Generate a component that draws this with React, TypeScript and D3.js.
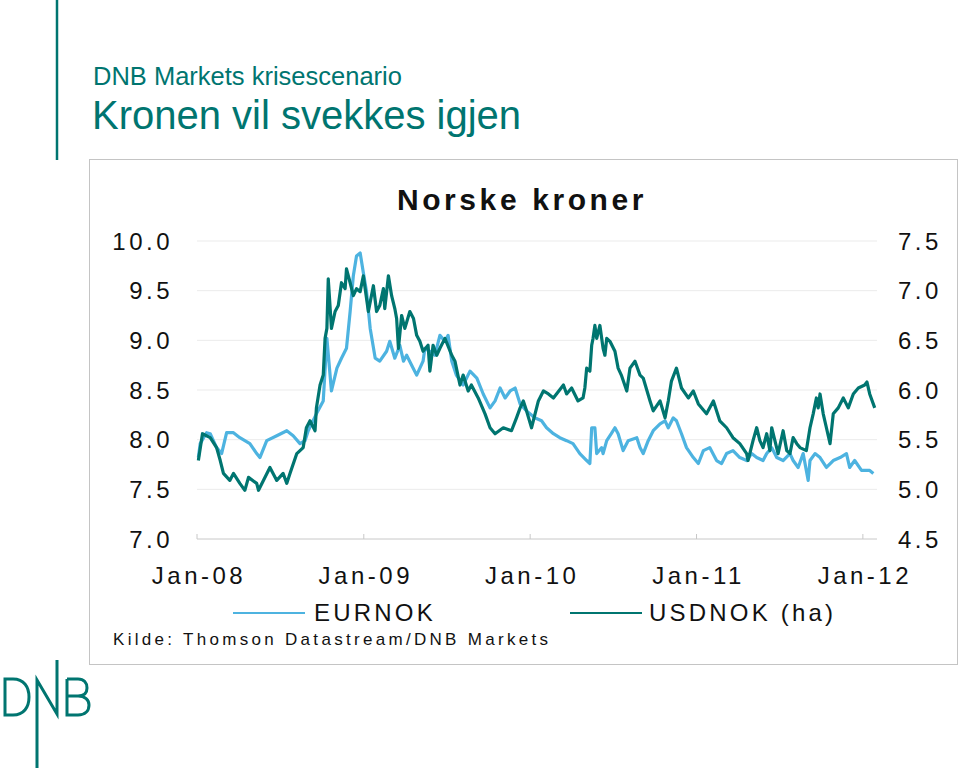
import React from "react";
import * as d3 from "d3";

// Months since Jan 2008 and values
const eurMonths = [0.1,0.22,0.7,0.94,1.42,1.78,2.14,2.62,3.1,3.46,3.82,4.3,4.54,5.02,5.74,6.46,6.94,7.42,7.78,8.02,8.62,9.1,9.35,9.7,10.07,10.43,10.79,11.03,11.27,11.5,11.75,12.0,12.23,12.47,12.83,13.19,13.67,13.91,14.27,14.63,14.87,15.11,15.47,15.83,16.07,16.31,16.43,16.79,17.15,17.51,17.87,18.11,18.36,18.71,19.19,19.67,20.16,20.64,21.12,21.48,21.84,22.2,22.56,22.92,23.28,23.76,24.36,24.84,25.2,25.68,26.16,26.64,27.12,27.6,28.08,28.32,28.44,28.68,28.8,29.16,29.28,29.52,29.88,30.12,30.36,30.73,31.09,31.69,31.93,32.17,32.53,32.89,33.37,33.73,33.97,34.33,34.57,34.93,35.29,35.77,36.13,36.49,36.97,37.45,37.81,38.17,38.65,39.13,39.61,39.97,40.33,40.81,41.06,41.42,41.78,42.26,42.74,42.98,43.34,43.7,44.06,44.18,44.54,44.9,45.38,45.87,46.35,46.83,47.06,47.42,47.9,48.5,48.75];
const eurValues = [7.82,7.96,8.07,8.06,7.92,7.86,8.07,8.07,8.02,7.99,7.96,7.86,7.82,7.99,8.04,8.09,8.04,7.96,7.99,8.09,8.26,8.39,9.02,8.49,8.72,8.82,8.92,9.29,9.65,9.85,9.88,9.68,9.49,9.12,8.82,8.79,8.89,8.99,8.82,8.95,8.79,8.85,8.75,8.65,8.72,8.79,8.92,8.89,8.85,9.05,8.99,9.05,8.79,8.65,8.55,8.69,8.62,8.46,8.32,8.39,8.52,8.42,8.49,8.52,8.36,8.29,8.22,8.19,8.12,8.06,8.02,7.99,7.96,7.86,7.79,7.76,8.12,8.12,7.86,7.92,7.86,7.99,8.06,8.12,8.06,7.89,7.99,8.02,7.92,7.86,7.99,8.09,8.16,8.19,8.12,8.22,8.19,8.06,7.92,7.82,7.76,7.89,7.92,7.79,7.76,7.86,7.89,7.82,7.79,7.86,7.82,7.79,7.86,7.92,7.82,7.79,7.86,7.79,7.72,7.86,7.59,7.79,7.86,7.82,7.72,7.79,7.82,7.86,7.72,7.79,7.69,7.69,7.66];

const usdMonths = [0.1,0.4,0.94,1.42,1.66,1.9,2.38,2.62,3.1,3.46,3.7,4.3,4.42,5.26,5.74,6.22,6.46,6.7,7.18,7.66,7.9,8.14,8.5,8.62,8.86,9.1,9.22,9.35,9.47,9.7,9.95,10.19,10.43,10.67,10.79,11.03,11.27,11.5,11.75,12.0,12.35,12.7,12.95,13.19,13.43,13.55,13.79,14.03,14.27,14.39,14.51,14.75,14.99,15.35,15.59,15.83,16.07,16.31,16.67,16.79,17.03,17.27,17.51,17.87,18.36,18.6,18.95,19.19,19.55,19.79,20.28,20.76,21.12,21.48,22.08,22.68,23.04,23.28,23.52,23.76,24.12,24.6,24.96,25.32,25.68,26.4,26.64,27.0,27.48,27.84,27.96,28.08,28.32,28.44,28.56,28.68,28.8,29.04,29.28,29.4,29.52,29.76,30.12,30.36,30.6,30.97,31.21,31.57,31.93,32.17,32.65,32.89,33.37,33.73,33.97,34.21,34.57,34.93,35.41,35.77,36.13,36.73,37.21,37.69,38.17,38.65,39.13,39.61,39.73,40.09,40.33,40.58,40.82,41.06,41.3,41.42,41.66,41.9,42.26,42.5,42.74,42.98,43.22,43.46,43.94,44.18,44.42,44.66,44.78,44.9,45.14,45.38,45.62,45.87,46.23,46.59,46.95,47.3,47.67,48.14,48.3,48.5,48.87];
const usdValues = [5.29,5.56,5.52,5.42,5.29,5.16,5.09,5.16,5.06,4.99,5.12,5.06,4.99,5.22,5.09,5.16,5.06,5.16,5.36,5.42,5.62,5.69,5.59,5.82,6.05,6.15,6.52,6.62,7.12,6.62,6.79,6.85,7.08,7.02,7.22,7.08,6.95,7.02,6.99,7.15,6.79,7.05,6.79,6.85,7.02,6.82,7.15,6.95,6.82,6.72,6.42,6.75,6.62,6.79,6.72,6.55,6.49,6.39,6.45,6.19,6.45,6.35,6.42,6.52,6.35,6.29,6.05,6.15,5.99,6.05,5.92,5.76,5.62,5.56,5.62,5.59,5.72,5.82,5.89,5.79,5.62,5.89,5.99,5.96,5.92,6.05,5.96,6.02,5.89,5.92,6.02,6.22,6.19,6.45,6.52,6.65,6.52,6.65,6.42,6.35,6.52,6.49,6.39,6.22,6.15,5.99,6.22,6.29,6.15,6.12,5.89,5.79,5.89,5.72,5.89,6.09,6.22,6.02,5.92,5.99,5.86,5.76,5.89,5.69,5.62,5.52,5.46,5.36,5.29,5.49,5.62,5.49,5.42,5.56,5.39,5.62,5.49,5.36,5.59,5.39,5.36,5.52,5.46,5.42,5.39,5.62,5.76,5.92,5.82,5.96,5.76,5.62,5.46,5.76,5.82,5.92,5.82,5.96,6.02,6.05,6.08,5.96,5.82];

const xTickYears = [2008, 2009, 2010, 2011, 2012];
const xTickLabels = ["Jan-08", "Jan-09", "Jan-10", "Jan-11", "Jan-12"];
const leftTicks = [7.0, 7.5, 8.0, 8.5, 9.0, 9.5, 10.0];
const rightTicks = [4.5, 5.0, 5.5, 6.0, 6.5, 7.0, 7.5];

const TEAL = "#007570";
const LIGHT = "#4db3e0";
const FONT = "'Liberation Sans', Arial, sans-serif";

const toDate = (m: number) => new Date(2008, 0, 1 + Math.round(m * 30.4375));

export default function App() {
  const x = d3.scaleTime().domain([new Date(2008, 0, 1), new Date(2012, 1, 1)]).range([197, 877]);
  const yL = d3.scaleLinear().domain([7, 10]).range([539, 241]);
  const yR = d3.scaleLinear().domain([4.5, 7.5]).range([539, 241]);

  const eur = eurMonths.map((m, i) => ({ d: toDate(m), v: eurValues[i] }));
  const usd = usdMonths.map((m, i) => ({ d: toDate(m), v: usdValues[i] }));

  const lineL = d3.line<{ d: Date; v: number }>().x((p) => x(p.d)).y((p) => yL(p.v));
  const lineR = d3.line<{ d: Date; v: number }>().x((p) => x(p.d)).y((p) => yR(p.v));

  const [x0, x1] = x.range();

  return (
    <svg width={960} height={772} style={{ position: "absolute", left: 0, top: 0, background: "#fff" }} fontFamily={FONT}>
      {/* header */}
      <line x1={57} y1={0} x2={57} y2={160} stroke={TEAL} strokeWidth={2.5} />
      <text x={93} y={85} fontSize={25.5} fill={TEAL}>DNB Markets krisescenario</text>
      <text x={92} y={129} fontSize={40} fill={TEAL}>Kronen vil svekkes igjen</text>

      {/* chart box */}
      <rect x={89.5} y={159.5} width={868} height={505} fill="none" stroke="#c4c4c4" strokeWidth={1} />
      <text x={522} y={210} fontSize={30} fontWeight="bold" textAnchor="middle" letterSpacing={3.6} fill="#111">Norske kroner</text>

      {/* gridlines */}
      {leftTicks.slice(1).map((t) => (
        <line key={"g" + t} x1={x0} x2={x1} y1={yL(t)} y2={yL(t)} stroke="#ebebeb" strokeWidth={1} />
      ))}
      <line x1={x0} x2={x1} y1={yL(7)} y2={yL(7)} stroke="#c8c8c8" strokeWidth={1} />
      {xTickYears.map((yr) => {
        const xx = x(new Date(yr, 0, 1));
        return <line key={"t" + yr} x1={xx} x2={xx} y1={yL(7) - 5} y2={yL(7)} stroke="#c8c8c8" strokeWidth={1} />;
      })}

      {/* axis labels */}
      {leftTicks.map((t) => (
        <text key={"l" + t} x={173} y={yL(t) + 8.5} fontSize={24} textAnchor="end" letterSpacing={3.5} fill="#111">{t.toFixed(1)}</text>
      ))}
      {rightTicks.map((t) => (
        <text key={"r" + t} x={898} y={yR(t) + 8.5} fontSize={24} letterSpacing={3.5} fill="#111">{t.toFixed(1)}</text>
      ))}
      {xTickYears.map((yr, i) => (
        <text key={"x" + yr} x={x(new Date(yr, 0, 1)) + 2} y={584} fontSize={24} textAnchor="middle" letterSpacing={3.5} fill="#111">{xTickLabels[i]}</text>
      ))}

      {/* series */}
      <path d={lineL(eur) || ""} fill="none" stroke={LIGHT} strokeWidth={3.2} strokeLinejoin="round" />
      <path d={lineR(usd) || ""} fill="none" stroke={TEAL} strokeWidth={3.2} strokeLinejoin="round" />

      {/* legend */}
      <line x1={233} x2={305} y1={613} y2={613} stroke={LIGHT} strokeWidth={2} />
      <text x={314} y={621} fontSize={24} letterSpacing={3.2} fill="#111">EURNOK</text>
      <line x1={570} x2={642} y1={613} y2={613} stroke={TEAL} strokeWidth={2} />
      <text x={649} y={621} fontSize={24} letterSpacing={3.2} fill="#111">USDNOK (ha)</text>
      <text x={113} y={645} fontSize={17} letterSpacing={3.3} fill="#111">Kilde: Thomson Datastream/DNB Markets</text>

      {/* DNB logo */}
      <g fill="none" stroke={TEAL} strokeWidth={3}>
        <path d="M5,679 V715 H13 C24,715 29,707 29,697 C29,687 24,679 13,679 Z" />
        <path d="M37,768 V680 L57,714 V660" />
        <path d="M67,679 H78 C84,679 87,683 87,688 C87,693 84,696 78,696 H67 M78,696 C85,696 89,700 89,705 C89,711 85,715 78,715 H67 V679" />
      </g>
    </svg>
  );
}
